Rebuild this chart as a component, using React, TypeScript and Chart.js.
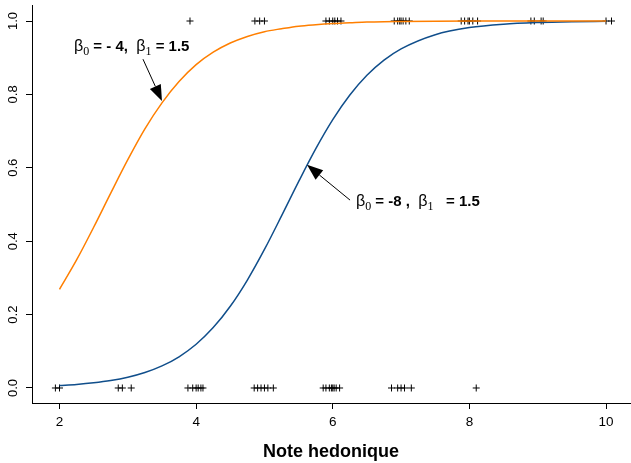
import React, { useEffect, useRef } from "react";
import { Chart, registerables } from "chart.js";

Chart.register(...registerables);

// ---- data ----
const xTicks = [2, 4, 6, 8, 10];
const xTickLabels = ["2", "4", "6", "8", "10"];
const yTicks = [0, 0.2, 0.4, 0.6, 0.8, 1.0];
const yTickLabels = ["0.0", "0.2", "0.4", "0.6", "0.8", "1.0"];

const curveX = [2, 2.25, 2.5, 2.75, 3, 3.25, 3.5, 3.75, 4, 4.25, 4.5, 4.75, 5, 5.25, 5.5, 5.75, 6, 6.25, 6.5, 6.75, 7, 7.5, 8, 8.5, 9, 9.5, 10];
// beta0 = -4, beta1 = 1.5
const orangeY = [0.269, 0.349, 0.438, 0.531, 0.622, 0.706, 0.777, 0.835, 0.881, 0.915, 0.94, 0.958, 0.971, 0.979, 0.986, 0.99, 0.993, 0.995, 0.997, 0.998, 0.9985, 0.9993, 0.9997, 0.9998, 0.9999, 0.99995, 1.0];
// beta0 = -8, beta1 = 1.5
const blueY = [0.0067, 0.0097, 0.0141, 0.0203, 0.0293, 0.0421, 0.0601, 0.0851, 0.1192, 0.1645, 0.2227, 0.2942, 0.3775, 0.4688, 0.5622, 0.6514, 0.7311, 0.7982, 0.852, 0.8933, 0.9241, 0.9627, 0.982, 0.9914, 0.9959, 0.9981, 0.9991];

const obsX1 = [3.91, 4.86, 4.93, 5.0, 5.9, 5.95, 6.0, 6.03, 6.07, 6.12, 6.9, 6.95, 6.98, 7.0, 7.03, 7.07, 7.12, 7.88, 7.93, 7.98, 8.0, 8.05, 8.12, 8.9, 8.95, 9.05, 9.08, 10.0, 10.08];
const obsX0 = [1.94, 2.0, 2.86, 2.92, 3.05, 3.88, 3.95, 4.0, 4.03, 4.07, 4.1, 4.85, 4.9, 4.95, 5.0, 5.05, 5.13, 5.86, 5.9, 5.95, 5.98, 6.0, 6.02, 6.05, 6.1, 6.86, 6.95, 7.0, 7.05, 7.15, 8.1];

const xTitle = "Note hedonique";

// annotations (data coordinates)
const ann1Pos = { x: 2.212, y: 0.918 };
const ann1Arrow = { x0: 3.222, y0: 0.896, x1: 3.5, y1: 0.782 };
const ann2Pos = { x: 6.34, y: 0.496 };
const ann2Arrow = { x0: 6.253, y0: 0.512, x1: 5.623, y1: 0.608 };

const FONT = "'Liberation Sans', Arial, sans-serif";

type Piece = { text: string; font: string; dy: number };

function drawRich(ctx: CanvasRenderingContext2D, x: number, y: number, pieces: Piece[]) {
  let cx = x;
  ctx.textAlign = "left";
  ctx.textBaseline = "alphabetic";
  for (const p of pieces) {
    ctx.font = p.font;
    ctx.fillText(p.text, cx, y + p.dy);
    cx += ctx.measureText(p.text).width;
  }
}

function drawArrow(ctx: CanvasRenderingContext2D, x0: number, y0: number, x1: number, y1: number) {
  const ang = Math.atan2(y1 - y0, x1 - x0);
  const len = 16;
  const hw = 6;
  const bx = x1 - len * Math.cos(ang);
  const by = y1 - len * Math.sin(ang);
  ctx.strokeStyle = "#000";
  ctx.lineWidth = 1;
  ctx.beginPath();
  ctx.moveTo(x0, y0);
  ctx.lineTo(bx, by);
  ctx.stroke();
  ctx.fillStyle = "#000";
  ctx.beginPath();
  ctx.moveTo(x1, y1);
  ctx.lineTo(bx + hw * Math.sin(ang), by - hw * Math.cos(ang));
  ctx.lineTo(bx - hw * Math.sin(ang), by + hw * Math.cos(ang));
  ctx.closePath();
  ctx.fill();
}

const overlayPlugin = {
  id: "overlay",
  afterDraw(chart: any) {
    const ctx: CanvasRenderingContext2D = chart.ctx;
    const xs = chart.scales.x;
    const ys = chart.scales.y;
    ctx.save();
    ctx.fillStyle = "#000";
    ctx.font = `13px ${FONT}`;
    // y tick labels (rotated)
    yTicks.forEach((v, i) => {
      const py = ys.getPixelForValue(v);
      ctx.save();
      ctx.translate(13, py);
      ctx.rotate(-Math.PI / 2);
      ctx.textAlign = "center";
      ctx.textBaseline = "middle";
      ctx.fillText(yTickLabels[i], 0, 0);
      ctx.restore();
    });
    // x tick labels
    ctx.font = `13.5px ${FONT}`;
    ctx.textAlign = "center";
    ctx.textBaseline = "middle";
    xTicks.forEach((v, i) => {
      ctx.fillText(xTickLabels[i], xs.getPixelForValue(v), xs.bottom - 41);
    });

    const beta = `16px ${FONT}`;
    const sub = `12px 'Liberation Serif', serif`;
    const bold = `bold 15px ${FONT}`;
    drawRich(ctx, xs.getPixelForValue(ann1Pos.x), ys.getPixelForValue(ann1Pos.y), [
      { text: "β", font: beta, dy: 0 },
      { text: "0", font: sub, dy: 4 },
      { text: " = - 4,  ", font: bold, dy: 0 },
      { text: "β", font: beta, dy: 0 },
      { text: "1", font: sub, dy: 4 },
      { text: " = 1.5", font: bold, dy: 0 },
    ]);
    drawRich(ctx, xs.getPixelForValue(ann2Pos.x), ys.getPixelForValue(ann2Pos.y), [
      { text: "β", font: beta, dy: 0 },
      { text: "0", font: sub, dy: 4 },
      { text: " = -8 ,  ", font: bold, dy: 0 },
      { text: "β", font: beta, dy: 0 },
      { text: "1", font: sub, dy: 4 },
      { text: "   = 1.5", font: bold, dy: 0 },
    ]);
    drawArrow(ctx, xs.getPixelForValue(ann1Arrow.x0), ys.getPixelForValue(ann1Arrow.y0), xs.getPixelForValue(ann1Arrow.x1), ys.getPixelForValue(ann1Arrow.y1));
    drawArrow(ctx, xs.getPixelForValue(ann2Arrow.x0), ys.getPixelForValue(ann2Arrow.y0), xs.getPixelForValue(ann2Arrow.x1), ys.getPixelForValue(ann2Arrow.y1));
    ctx.restore();
  },
};

export default function App() {
  const ref = useRef<HTMLCanvasElement | null>(null);
  useEffect(() => {
    if (!ref.current) return;
    Chart.defaults.font.family = FONT;
    Chart.defaults.color = "#000";
    const points = [
      ...obsX1.map((x) => ({ x, y: 1 })),
      ...obsX0.map((x) => ({ x, y: 0 })),
    ];
    const chart = new Chart(ref.current, {
      type: "line",
      data: {
        datasets: [
          {
            label: "orange",
            data: curveX.map((x, i) => ({ x, y: orangeY[i] })),
            borderColor: "#FF7F00",
            borderWidth: 1.5,
            pointRadius: 0,
            cubicInterpolationMode: "monotone",
            fill: false,
            order: 1,
          },
          {
            label: "blue",
            data: curveX.map((x, i) => ({ x, y: blueY[i] })),
            borderColor: "#104E8B",
            borderWidth: 1.5,
            pointRadius: 0,
            cubicInterpolationMode: "monotone",
            fill: false,
            order: 2,
          },
          {
            label: "obs",
            data: points,
            showLine: false,
            pointStyle: "cross",
            pointRadius: 3.5,
            pointBorderWidth: 1,
            pointBorderColor: "#000",
            pointBackgroundColor: "#000",
            borderColor: "#000",
            order: 3,
          } as any,
        ],
      },
      options: {
        responsive: false,
        animation: false,
        events: [],
        layout: { autoPadding: false, padding: { left: 0, top: 5, right: 1, bottom: 0 } },
        plugins: { legend: { display: false }, tooltip: { enabled: false } },
        scales: {
          x: {
            type: "linear",
            min: 1.5974,
            max: 10.351,
            afterBuildTicks: (s: any) => {
              s.ticks = xTicks.map((v) => ({ value: v }));
            },
            afterFit: (s: any) => {
              s.height = 60;
              s.paddingLeft = 0;
              s.paddingRight = 0;
            },
            ticks: { display: false },
            grid: { drawOnChartArea: false, drawTicks: true, tickLength: 6, color: "#000", lineWidth: 1 },
            border: { display: true, color: "#000", width: 1 },
            title: {
              display: true,
              text: xTitle,
              font: { size: 18, weight: "bold", family: FONT },
              color: "#000",
              padding: { top: 0, bottom: 0 },
            },
          },
          y: {
            type: "linear",
            min: -0.0409,
            max: 1.0436,
            afterBuildTicks: (s: any) => {
              s.ticks = yTicks.map((v) => ({ value: v }));
            },
            afterFit: (s: any) => {
              s.width = 32;
              s.paddingTop = 0;
              s.paddingBottom = 0;
            },
            ticks: { display: false },
            grid: { drawOnChartArea: false, drawTicks: true, tickLength: 6, color: "#000", lineWidth: 1 },
            border: { display: true, color: "#000", width: 1 },
          },
        },
      } as any,
      plugins: [overlayPlugin],
    });
    return () => chart.destroy();
  }, []);
  return (
    <div style={{ position: "absolute", left: 0, top: 0, width: 631, height: 463, background: "#fff" }}>
      <canvas ref={ref} width={631} height={463} style={{ display: "block" }} />
    </div>
  );
}
